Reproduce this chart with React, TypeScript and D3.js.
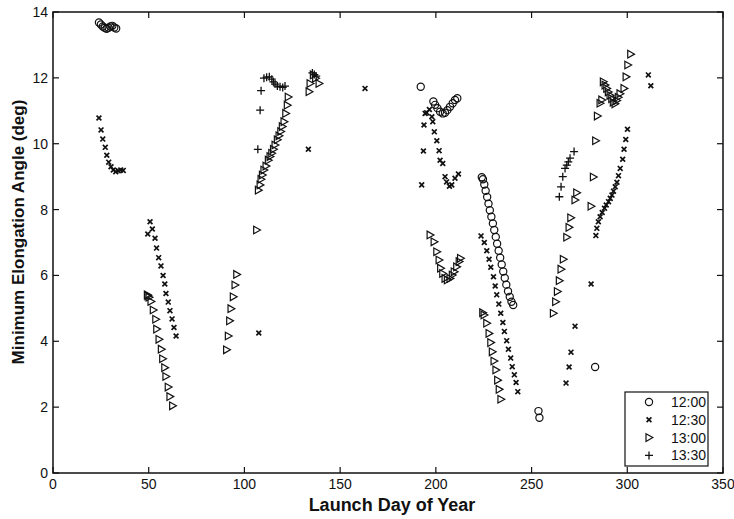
import React from "react";
import * as d3 from "d3";

const xTicks = [0, 50, 100, 150, 200, 250, 300, 350];
const yTicks = [0, 2, 4, 6, 8, 10, 12, 14];
const seriesNames = ["12:00", "12:30", "13:00", "13:30"];

const s1200: [number, number][] = [
  [24, 13.68], [25, 13.62], [26, 13.56], [27, 13.52], [28, 13.49], [29, 13.52], [30, 13.56], [31, 13.58], [32, 13.53], [33, 13.5],
  [192.1, 11.73],
  [198.7, 11.28], [199.6, 11.18], [200.8, 11.08], [202.2, 10.97], [203.6, 10.92], [204.8, 10.94], [206.0, 11.02], [207.4, 11.12], [208.8, 11.23], [210.0, 11.33], [211.2, 11.38],
  [224.0, 8.98], [224.6, 8.92], [225.3, 8.76], [226.0, 8.57], [226.8, 8.38], [227.5, 8.18], [228.2, 7.98], [229.0, 7.78], [229.8, 7.58], [230.5, 7.38], [231.3, 7.17], [232.0, 6.96], [232.8, 6.75], [233.6, 6.54], [234.4, 6.33], [235.2, 6.12], [236.0, 5.92], [236.8, 5.72], [237.7, 5.52], [238.6, 5.35], [239.5, 5.2], [240.4, 5.1],
  [253.6, 1.88], [254.1, 1.68],
  [283.2, 3.22],
];

const s1230: [number, number][] = [
  [24.0, 10.78], [25.1, 10.42], [26.0, 10.14], [27.3, 9.89], [28.1, 9.65], [29.1, 9.44], [30.3, 9.3], [31.5, 9.2], [32.8, 9.15], [34.1, 9.18], [35.4, 9.2], [36.7, 9.19],
  [49.5, 7.26], [50.7, 7.63], [51.9, 7.41], [53.3, 7.13], [54.1, 6.83], [55.2, 6.54], [56.4, 6.29], [57.5, 6.0], [58.4, 5.74], [59.0, 5.45], [60.2, 5.19], [61.1, 4.93], [62.2, 4.68], [63.2, 4.42], [64.3, 4.16],
  [107.5, 4.25], [133.4, 9.83], [163.0, 11.68],
  [196.6, 11.04], [195.2, 10.94], [194.4, 10.92], [197.9, 10.82], [198.4, 10.67], [193.8, 10.57], [199.2, 10.36], [200.5, 10.09], [201.7, 9.79], [193.5, 9.78], [202.2, 9.5], [203.6, 9.4], [192.6, 8.75], [204.8, 9.0], [205.6, 8.84], [207.1, 8.71], [208.3, 8.75], [210.0, 8.95], [211.8, 9.08],
  [223.6, 7.2], [225.3, 7.0], [226.6, 6.75], [227.8, 6.49], [228.7, 6.25], [230.1, 5.96], [231.0, 5.68], [231.8, 5.41], [232.9, 5.13], [233.9, 4.85], [235.0, 4.57], [235.8, 4.3], [237.0, 4.02], [237.9, 3.76], [239.1, 3.49], [239.9, 3.23], [241.0, 2.98], [241.9, 2.75], [242.8, 2.47],
  [268.0, 2.73], [269.6, 3.22], [270.6, 3.67], [272.7, 4.46],
  [281.1, 5.74],
  [300.1, 10.44], [299.2, 10.13], [298.3, 9.83], [297.6, 9.53], [296.3, 9.25], [295.4, 9.03], [294.6, 8.83], [293.7, 8.69], [292.8, 8.56], [292.0, 8.44], [291.1, 8.34], [290.2, 8.24], [289.0, 8.14], [288.1, 8.04], [286.9, 7.91], [285.8, 7.78], [284.9, 7.63], [284.1, 7.43], [283.6, 7.21],
  [311.0, 12.09], [312.3, 11.76],
];

const s1300: [number, number][] = [
  [49.3, 5.41], [49.6, 5.38], [50.2, 5.34], [51.2, 5.21], [52.4, 4.95], [53.7, 4.67], [54.2, 4.37], [55.4, 4.06], [56.6, 3.76], [57.3, 3.47], [58.4, 3.2], [59.0, 2.93], [60.2, 2.61], [61.1, 2.32], [62.5, 2.04],
  [90.7, 3.74], [91.6, 4.16], [92.3, 4.62], [93.0, 4.99], [94.2, 5.35], [95.1, 5.71], [96.0, 6.03],
  [106.4, 7.38],
  [107.3, 8.59], [108.2, 8.75], [108.7, 8.92], [109.4, 9.05], [110.2, 9.2], [111.3, 9.32], [112.5, 9.5], [113.4, 9.61], [114.3, 9.71], [115.2, 9.83], [116.0, 9.96], [117.2, 10.12], [118.1, 10.24], [119.0, 10.37], [119.8, 10.52], [120.7, 10.67], [121.6, 10.92], [122.4, 11.17], [122.9, 11.42],
  [133.8, 11.58], [134.3, 11.83], [136.0, 12.09], [137.2, 11.99], [139.0, 11.83],
  [197.0, 7.23], [199.1, 7.02], [200.5, 6.72], [201.7, 6.47], [202.5, 6.22], [203.6, 6.06], [204.8, 5.91], [206.0, 5.86], [207.4, 5.91], [208.6, 6.01], [209.6, 6.11], [210.9, 6.26], [212.2, 6.42], [212.9, 6.52],
  [224.5, 4.87], [225.2, 4.8], [226.6, 4.55], [227.8, 4.24], [228.7, 3.96], [229.5, 3.68], [230.4, 3.4], [231.4, 3.13], [232.3, 2.82], [233.1, 2.54], [234.0, 2.24],
  [273.6, 8.51], [272.7, 8.29], [270.5, 7.75], [269.6, 7.46], [268.4, 7.16], [266.6, 6.49], [265.4, 6.19], [264.5, 5.84], [263.5, 5.51], [262.6, 5.2], [261.4, 4.85],
  [301.8, 12.72], [300.3, 12.39], [299.4, 12.03], [298.3, 11.68],
  [287.5, 11.88], [288.4, 11.78], [289.3, 11.68], [290.1, 11.57], [291.0, 11.47], [291.9, 11.37], [292.7, 11.26], [293.6, 11.21], [294.5, 11.31], [295.3, 11.41], [296.2, 11.52],
  [286.7, 11.33], [285.8, 11.23], [284.4, 10.84], [283.5, 10.09], [282.3, 8.99], [281.1, 8.1],
];

const s1330: [number, number][] = [
  [107.0, 9.83], [108.2, 11.02], [108.7, 11.61], [110.2, 11.99], [111.6, 12.02], [113.0, 12.03], [114.3, 11.96], [115.1, 11.88], [116.0, 11.81], [117.2, 11.75], [118.6, 11.73], [120.0, 11.71], [121.2, 11.75],
  [135.5, 12.15], [136.5, 12.1], [137.5, 12.05],
  [264.5, 8.39], [265.4, 8.69], [266.3, 9.0], [267.5, 9.25], [268.4, 9.35], [269.2, 9.45], [270.1, 9.56], [272.2, 9.76],
];

const W = 734, H = 519;
const L = 53, R = 723, T = 12, B = 473;
const FONT = "'Liberation Sans', Arial, sans-serif";

const circlePath = "M3.6,0A3.6,3.6,0,1,1,-3.6,0A3.6,3.6,0,1,1,3.6,0Z";
const xPath = "M-2.4,-2.4L2.4,2.4M-2.4,2.4L2.4,-2.4";
const triPath = "M-3,-3.8L-3,3.8L3.8,0Z";
const plusPath = "M-4,0L4,0M0,-4L0,4";
const markerPaths = [circlePath, xPath, triPath, plusPath];
const markerWidths = [1.2, 1.7, 1.2, 1.3];

export default function App() {
  const x = d3.scaleLinear().domain([0, 350]).range([L, R]);
  const y = d3.scaleLinear().domain([0, 14]).range([B, T]);
  const all = [s1200, s1230, s1300, s1330];
  const legendX = 625, legendY = 392, legendW = 83, legendH = 74;
  return (
    <svg width={W} height={H} style={{ position: "absolute", left: 0, top: 0, background: "#fff" }} fontFamily={FONT}>
      <rect x={0} y={0} width={W} height={H} fill="#fff" />
      {all.map((s, si) => (
        <g key={si}>
          {s.map((d, i) => (
            <path key={i} d={markerPaths[si]} transform={`translate(${x(d[0])},${y(d[1])})`}
              fill="none" stroke="#111" strokeWidth={markerWidths[si]} />
          ))}
        </g>
      ))}
      <rect x={L} y={T} width={R - L} height={B - T} fill="none" stroke="#111" strokeWidth={1.5} />
      {xTicks.map((t) => (
        <g key={"x" + t}>
          <line x1={x(t)} x2={x(t)} y1={B} y2={B - 6} stroke="#111" strokeWidth={1.2} />
          <line x1={x(t)} x2={x(t)} y1={T} y2={T + 6} stroke="#111" strokeWidth={1.2} />
          <text x={x(t)} y={489} textAnchor="middle" fontSize={14} fill="#111">{t}</text>
        </g>
      ))}
      {yTicks.map((t) => (
        <g key={"y" + t}>
          <line x1={L} x2={L + 6} y1={y(t)} y2={y(t)} stroke="#111" strokeWidth={1.2} />
          <line x1={R} x2={R - 6} y1={y(t)} y2={y(t)} stroke="#111" strokeWidth={1.2} />
          <text x={48} y={y(t)} dy="0.36em" textAnchor="end" fontSize={14} fill="#111">{t}</text>
        </g>
      ))}
      <text x={392} y={511} textAnchor="middle" fontSize={18} fontWeight="bold" fill="#111">Launch Day of Year</text>
      <text transform={`translate(24,232) rotate(-90)`} textAnchor="middle" fontSize={17} fontWeight="bold" fill="#111">Minimum Elongation Angle (deg)</text>
      <rect x={legendX} y={legendY} width={legendW} height={legendH} fill="#fff" stroke="#111" strokeWidth={1.2} />
      {seriesNames.map((n, i) => (
        <g key={n} transform={`translate(0,${legendY + 10 + i * 17.8})`}>
          <path d={markerPaths[i]} transform={`translate(${legendX + 24},0)`} fill="none" stroke="#111" strokeWidth={markerWidths[i]} />
          <text x={legendX + 46} y={0} dy="0.36em" fontSize={14} fill="#111">{n}</text>
        </g>
      ))}
    </svg>
  );
}
